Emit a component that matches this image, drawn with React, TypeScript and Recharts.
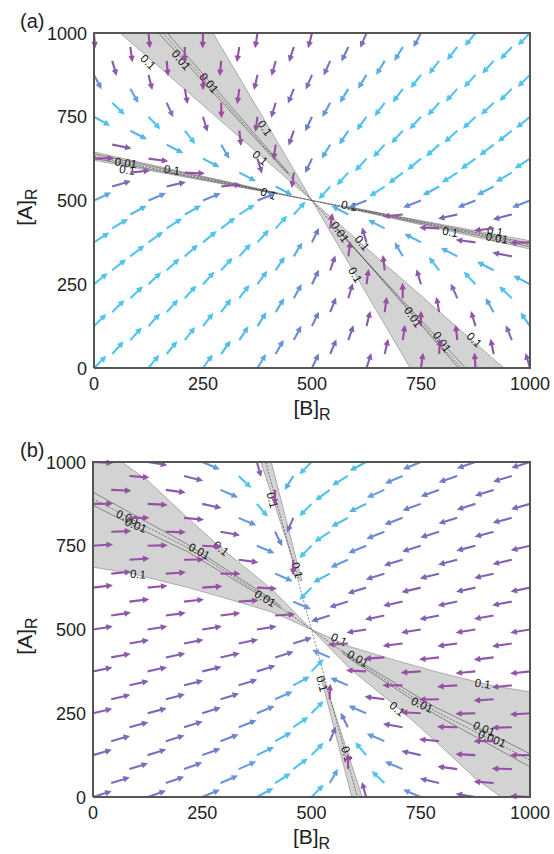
import React from 'react';
import { ScatterChart, Scatter, XAxis, YAxis } from 'recharts';

const FONT = '"Liberation Sans", Arial, Helvetica, sans-serif';
const AXIS_TICKS = [0, 250, 500, 750, 1000];

// quiver grid: rows from [A]R = 1000 down to 0, columns alternate between three offsets
const ROW_A = [1000, 958.3, 916.7, 875, 833.3, 791.7, 750, 708.3, 666.7, 625, 583.3, 541.7, 500,
  458.3, 416.7, 375, 333.3, 291.7, 250, 208.3, 166.7, 125, 83.3, 41.7, 0];
const COLS_0 = [0, 125, 250, 375, 500, 625, 750, 875, 1000];
const COLS_1 = [83.3, 208.3, 333.3, 458.3, 583.3, 708.3, 833.3, 958.3];
const COLS_2 = [41.7, 166.7, 291.7, 416.7, 541.7, 666.7, 791.7, 916.7];
const ROW_COLS = [COLS_0, COLS_1, COLS_2];

// arrow direction (degrees, data space) at each grid point, panel (a)
const ANGLES_A: (number | null)[][] = [
  [-87, -86, -91, -97, -101, -108, -112, -122, -127],
  [-84, -91, -97, -104, -110, -115, -121, -125],
  [-77, -86, -94, -102, -109, -115, -121, -125],
  [-68, -79, -90, -100, -108, -115, -121, -125, -128],
  [-66, -82, -96, -107, -115, -120, -125, -128],
  [-51, -71, -89, -103, -113, -120, -125, -129],
  [-36, -54, -77, -96, -110, -119, -125, -129, -133],
  [-34, -59, -85, -105, -117, -125, -130, -134],
  [-14, -34, -66, -96, -115, -125, -131, -135],
  [2, -10, -34, -77, -110, -125, -133, -137, -140],
  [8, -3, -34, -96, -125, -135, -140, -143],
  [21, 17, 8, -34, -125, -140, -145, -147],
  [31, 29, 28, 27, null, -153, -153, -153, -153],
  [35, 36, 40, 55, 146, -172, -164, -161],
  [38, 40, 45, 55, 84, 146, 177, -172],
  [40, 43, 47, 55, 70, 103, 146, 170, -178],
  [45, 49, 55, 65, 84, 114, 146, 166],
  [46, 50, 55, 63, 75, 95, 121, 146],
  [47, 51, 55, 61, 70, 84, 103, 126, 146],
  [51, 55, 60, 67, 77, 91, 109, 129],
  [52, 55, 60, 65, 73, 84, 98, 114],
  [52, 55, 59, 64, 70, 79, 90, 103, 118],
  [55, 59, 63, 68, 75, 84, 95, 107],
  [55, 58, 62, 67, 72, 80, 88, 99],
  [52, 58, 61, 65, 70, 76, 84, 93, 103],
];

// panel (b)
const ANGLES_B: (number | null)[][] = [
  [-4, -12, -29, -78, -127, -145, -152, -156, -158],
  [-6, -18, -51, -115, -142, -151, -156, -158],
  [-3, -10, -29, -91, -136, -150, -155, -158],
  [1, -4, -16, -57, -127, -148, -155, -158, -160],
  [0, -7, -29, -108, -145, -154, -158, -161],
  [3, -2, -13, -69, -139, -153, -158, -161],
  [5, 2, -4, -29, -127, -152, -158, -161, -163],
  [5, 1, -10, -91, -150, -158, -161, -163],
  [7, 5, 0, -29, -145, -158, -162, -164],
  [9, 7, 5, -4, -127, -158, -163, -164, -165],
  [9, 8, 5, -29, -158, -164, -165, -166],
  [11, 10, 9, 5, -158, -165, -166, -167],
  [12, 12, 12, 12, null, -168, -168, -168, -168],
  [13, 14, 15, 22, -175, -171, -170, -169],
  [14, 15, 16, 22, 151, -175, -172, -171],
  [15, 16, 17, 22, 53, 176, -175, -173, -172],
  [16, 18, 22, 35, 151, 180, -175, -173],
  [17, 19, 22, 30, 89, 170, -179, -175],
  [17, 19, 22, 28, 53, 151, 176, -178, -175],
  [19, 22, 27, 41, 111, 167, 178, -178],
  [20, 22, 26, 35, 72, 151, 173, 180],
  [20, 22, 25, 32, 53, 123, 164, 176, -180],
  [22, 25, 30, 44, 89, 151, 170, 178],
  [22, 24, 29, 39, 66, 129, 163, 174],
  [22, 24, 28, 35, 53, 102, 151, 168, 176],
];

// shaded regions (0.1 contours) and contour lines, [B, A] pairs
const SHADE_A = [
  [[60, 1000], [273, 1000], [500, 500]],
  [[500, 500], [940, 0], [725, 0]],
  [[0, 645], [500, 500], [0, 620]],
  [[500, 500], [1000, 380], [1000, 355]],
];
const SOLID_A = [
  [[148, 1000], [444, 580]],
  [[168, 1000], [448, 580]],
  [[556, 420], [836, 0]],
  [[552, 420], [852, 0]],
  [[0, 639], [420, 522]],
  [[0, 626], [420, 520]],
  [[580, 482], [1000, 372]],
  [[580, 479], [1000, 362]],
];
const DASHED_A = [
  [[158, 1000], [500, 500], [842, 0]],
  [[0, 632], [500, 500], [1000, 368]],
];

const SHADE_B = [
  [[0, 1000], [66, 1000], [124, 946], [215, 835], [291, 746], [412, 617], [500, 500],
    [412, 551], [320, 587], [215, 626], [85, 668], [0, 686]],
  [[1000, 0], [934, 0], [876, 54], [785, 165], [709, 254], [588, 383], [500, 500],
    [588, 449], [680, 413], [785, 374], [915, 332], [1000, 314]],
  [[384, 1000], [408, 1000], [478, 645], [472, 648]],
  [[616, 0], [592, 0], [522, 355], [528, 352]],
];
const SOLID_B = [
  [[0, 910], [100, 838], [215, 755], [398, 600], [430, 570]],
  [[0, 871], [100, 805], [215, 733], [398, 590], [430, 563]],
  [[570, 430], [602, 400], [785, 245], [900, 162], [1000, 90]],
  [[570, 437], [602, 410], [785, 267], [900, 195], [1000, 129]],
];
const DASHED_B = [
  [[0, 890], [100, 822], [215, 745], [398, 595], [500, 500], [602, 405], [785, 255], [900, 178], [1000, 110]],
  [[395, 1000], [605, 0]],
];

// contour labels
const LABEL_TEXT_A = ['0.1', '0.01', '0.01', '0.1', '0.1', '0.01', '0.1', '0.1', '0.1', '0.1',
  '0.1', '0.1', '0.01', '0.01', '0.1', '0.1', '0.01', '0.01', '0.1'];
const LABEL_POS_A = [[124, 913], [200, 919], [264, 851], [392, 716], [381, 627], [73, 612], [76, 591],
  [179, 591], [400, 520], [585, 484], [817, 406], [920, 408], [924, 388], [564, 406], [615, 373],
  [599, 278], [732, 152], [798, 78], [872, 84]];
const LABEL_ROT_A = [45, 50, 50, 55, 40, 8, 8, 8, 20, 12, 10, 10, 10, 55, 50, 60, 55, 55, 45];

const LABEL_TEXT_B = ['0.00', '0.01', '0.01', '0.1', '0.1', '0.01', '0.1', '0.1', '0.1', '0.01',
  '0.1', '0.01', '0.1', '0.01', '0.001', '0.1', '0.1'];
const LABEL_POS_B = [[78, 835], [98, 811], [243, 734], [293, 742], [103, 665], [394, 593], [410, 886],
  [467, 677], [563, 470], [606, 413], [892, 338], [753, 275], [696, 263], [895, 204], [913, 174],
  [524, 338], [581, 128]];
const LABEL_ROT_B = [22, 22, 28, 40, 5, 30, 75, 75, 25, 30, 8, 25, 40, 22, 22, 75, 75];

const BOX = [[0, 0], [0, 1000], [1000, 1000], [1000, 0], [0, 0]];
const ARROW_LEN = 46;

const COLOR_STOPS: [number, string][] = [
  [0, '#4ec4ee'], [10, '#4ec4ee'], [16, '#56b2e8'], [20, '#6a8ed4'], [24, '#7573c0'],
  [29, '#8262b2'], [37, '#9352a8'], [48, '#a3479f'],
];

const rgb = (h: string) => [1, 3, 5].map((i) => parseInt(h.slice(i, i + 2), 16));

function arrowColor(dx: number, dy: number) {
  const ang = (Math.atan2(Math.abs(dy), Math.abs(dx)) * 180) / Math.PI;
  const d = Math.min(Math.abs(ang - 42), 48);
  for (let i = 1; i < COLOR_STOPS.length; i++) {
    const [d1, c1] = COLOR_STOPS[i];
    if (d <= d1) {
      const [d0, c0] = COLOR_STOPS[i - 1];
      const t = d1 === d0 ? 0 : (d - d0) / (d1 - d0);
      const a = rgb(c0), b = rgb(c1);
      return `rgb(${a.map((v, k) => Math.round(v + (b[k] - v) * t)).join(',')})`;
    }
  }
  return COLOR_STOPS[COLOR_STOPS.length - 1][1];
}

const toPts = (pts: number[][]) => pts.map(([b, a]) => ({ b, a }));

function buildArrows(angles: (number | null)[][]) {
  const out: { b: number; a: number }[] = [];
  angles.forEach((row, r) => {
    const cols = ROW_COLS[r % 3];
    row.forEach((deg, i) => {
      if (deg === null) return;
      const t = (deg * Math.PI) / 180;
      out.push({ b: cols[i], a: ROW_A[r] });
      out.push({ b: cols[i] + ARROW_LEN * Math.cos(t), a: ROW_A[r] + ARROW_LEN * Math.sin(t) });
    });
  });
  return out;
}

function buildLabels(text: string[], pos: number[][], rot: number[]) {
  return text.map((t, i) => ({ b: pos[i][0], a: pos[i][1], text: t, rot: rot[i] }));
}

const Empty = () => <g />;

const ptStr = (points: { x: number; y: number }[] = []) => points.map((q) => `${q.x},${q.y}`).join(' ');

const ShadeLine = (p: any) => (
  <polygon points={ptStr(p.points)} fill="#d3d3d3" stroke="#707070" strokeWidth={0.5} />
);
const SolidLine = (p: any) => (
  <polyline points={ptStr(p.points)} fill="none" stroke="#444" strokeWidth={0.55} />
);
const DashedLine = (p: any) => (
  <polyline points={ptStr(p.points)} fill="none" stroke="#222" strokeWidth={0.55} strokeDasharray="2 1.5" />
);
const BoxLine = (p: any) => (
  <polyline points={ptStr(p.points)} fill="none" stroke="#555" strokeWidth={2} />
);

const QuiverLine = (p: any) => {
  const pts: { x: number; y: number }[] = p.points || [];
  const items = [];
  for (let i = 0; i + 1 < pts.length; i += 2) {
    const s = pts[i], e = pts[i + 1];
    const dx = e.x - s.x, dy = e.y - s.y;
    const len = Math.hypot(dx, dy) || 1;
    const ux = dx / len, uy = dy / len;
    const hl = 6.5, hw = 3.2;
    const bx = e.x - ux * hl, by = e.y - uy * hl;
    const c = arrowColor(dx, dy);
    items.push(
      <g key={i}>
        <line x1={s.x} y1={s.y} x2={bx + ux} y2={by + uy} stroke={c} strokeWidth={2.1} />
        <polygon points={`${e.x},${e.y} ${bx - uy * hw},${by + ux * hw} ${bx + uy * hw},${by - ux * hw}`} fill={c} />
      </g>
    );
  }
  return <g>{items}</g>;
};

const LabelShape = (p: any) => (
  <text x={p.cx} y={p.cy} textAnchor="middle" dominantBaseline="central" fontSize={11.5}
    fontFamily={FONT} fill="#111" transform={`rotate(${p.payload.rot} ${p.cx} ${p.cy})`}>
    {p.payload.text}
  </text>
);

const XTick = (p: any) => (
  <text x={p.x} y={p.y + 14} textAnchor="middle" fontSize={18} fill="#222" fontFamily={FONT}>
    {p.payload.value}
  </text>
);
const YTick = (p: any) => (
  <text x={p.x + 1} y={p.y + 6.5} textAnchor="end" fontSize={18} fill="#222" fontFamily={FONT}>
    {p.payload.value}
  </text>
);

interface PanelProps {
  letter: string;
  yw: number;
  angles: (number | null)[][];
  shades: number[][][];
  solids: number[][][];
  dashes: number[][][];
  labels: { b: number; a: number; text: string; rot: number }[];
}

const Panel: React.FC<PanelProps> = ({ letter, yw, angles, shades, solids, dashes, labels }) => {
  const plotW = 554 - 24 - yw;
  const xLabel = () => (
    <text x={yw + plotW / 2} y={368 + 47} textAnchor="middle" fontSize={21} fill="#222" fontFamily={FONT}>
      [B]<tspan dy={5} fontSize={16}>R</tspan>
    </text>
  );
  const yLabel = () => (
    <g>
      <text x={20} y={28} fontSize={20} fill="#222" fontFamily={FONT}>{letter}</text>
      <text x={32} y={207} textAnchor="middle" fontSize={21} fill="#222" fontFamily={FONT}
        transform="rotate(-90 32 207)">
        [A]<tspan dy={5} fontSize={16}>R</tspan>
      </text>
    </g>
  );
  return (
    <ScatterChart width={554} height={430} margin={{ top: 33, right: 24, left: 0, bottom: 10 }}>
      <XAxis type="number" dataKey="b" domain={[0, 1000]} ticks={AXIS_TICKS} interval={0}
        axisLine={false} tickLine={false} height={52} tick={XTick} label={xLabel} />
      <YAxis type="number" dataKey="a" domain={[0, 1000]} ticks={AXIS_TICKS} interval={0}
        axisLine={false} tickLine={false} width={yw} tick={YTick} label={yLabel} />
      {shades.map((s, i) => (
        <Scatter key={`sh${i}`} data={toPts(s)} shape={Empty} line={ShadeLine} isAnimationActive={false} />
      ))}
      {solids.map((s, i) => (
        <Scatter key={`so${i}`} data={toPts(s)} shape={Empty} line={SolidLine} isAnimationActive={false} />
      ))}
      {dashes.map((s, i) => (
        <Scatter key={`da${i}`} data={toPts(s)} shape={Empty} line={DashedLine} isAnimationActive={false} />
      ))}
      <Scatter data={labels} shape={LabelShape} isAnimationActive={false} />
      <Scatter data={buildArrows(angles)} shape={Empty} line={QuiverLine} isAnimationActive={false} />
      <Scatter data={toPts(BOX)} shape={Empty} line={BoxLine} isAnimationActive={false} />
    </ScatterChart>
  );
};

export default function App() {
  return (
    <div style={{ position: 'absolute', left: 0, top: 0, width: 554, height: 854, background: '#fff', overflow: 'hidden' }}>
      <div style={{ position: 'absolute', left: 0, top: 0 }}>
        <Panel letter="(a)" yw={94} angles={ANGLES_A} shades={SHADE_A} solids={SOLID_A} dashes={DASHED_A}
          labels={buildLabels(LABEL_TEXT_A, LABEL_POS_A, LABEL_ROT_A)} />
      </div>
      <div style={{ position: 'absolute', left: 0, top: 429 }}>
        <Panel letter="(b)" yw={93} angles={ANGLES_B} shades={SHADE_B} solids={SOLID_B} dashes={DASHED_B}
          labels={buildLabels(LABEL_TEXT_B, LABEL_POS_B, LABEL_ROT_B)} />
      </div>
    </div>
  );
}
